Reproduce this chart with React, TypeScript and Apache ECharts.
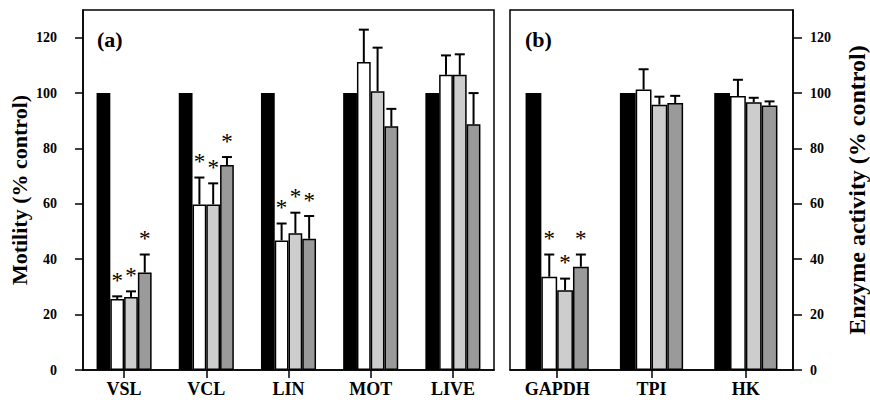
import React, { useEffect, useRef } from "react";
import * as echarts from "echarts";

const categoriesA = ["VSL", "VCL", "LIN", "MOT", "LIVE"];
const categoriesB = ["GAPDH", "TPI", "HK"];
const seriesNames = ["Control", "Dose 1", "Dose 2", "Dose 3"];

// Panel (a): motility, % control
const controlA = [100, 100, 100, 100, 100];
const dose1A = [25.6, 59.8, 46.8, 111.2, 106.6];
const dose2A = [26.4, 59.8, 49.4, 100.7, 106.6];
const dose3A = [35.2, 74.0, 47.4, 88.0, 88.7];
const dose1ErrA = [1.0, 9.7, 6.1, 11.7, 7.0];
const dose2ErrA = [2.0, 7.6, 7.4, 15.7, 7.4];
const dose3ErrA = [6.5, 2.9, 8.2, 6.3, 11.3];
const sigA = [1, 1, 1, 0, 0];

// Panel (b): enzyme activity, % control
const controlB = [100, 100, 100];
const dose1B = [33.7, 101.3, 98.9];
const dose2B = [28.8, 95.8, 96.7];
const dose3B = [37.3, 96.4, 95.5];
const dose1ErrB = [8.0, 7.3, 5.9];
const dose2ErrB = [4.2, 2.9, 1.6];
const dose3ErrB = [4.4, 2.6, 1.5];
const sigB = [1, 0, 0];

const yTicks = [0, 20, 40, 60, 80, 100, 120];
const FONT = "Liberation Serif, Times New Roman, serif";
const barColors = ["#000000", "#ffffff", "#cdcdcd", "#9a9a9a"];

function buildErrData(means: number[][], errs: number[][], sig: number[]) {
  const out: number[][] = [];
  means.forEach((arr, s) => {
    arr.forEach((m, c) => {
      out.push([c, m, errs[s][c], s + 1, sig[c]]);
    });
  });
  return out;
}

function renderErr(params: any, api: any) {
  const cat = api.value(0);
  const mean = api.value(1);
  const err = api.value(2);
  const s = api.value(3);
  const sig = api.value(4);
  const band = api.size([1, 0])[0];
  const barW = (band * 0.67) / 4;
  const base = api.coord([cat, mean]);
  const top = api.coord([cat, mean + err]);
  const x = base[0] + (s - 1.5) * barW;
  const children: any[] = [];
  const st = { stroke: "#000", lineWidth: 2 };
  if (err > 0) {
    children.push({ type: "line", shape: { x1: x, y1: base[1], x2: x, y2: top[1] }, style: st });
    children.push({ type: "line", shape: { x1: x - 5, y1: top[1], x2: x + 5, y2: top[1] }, style: st });
  }
  if (sig) {
    children.push({
      type: "text",
      x: x,
      y: top[1] - 16,
      style: {
        text: "*",
        fill: "#000",
        font: `normal 23px ${FONT}`,
        textAlign: "center",
        textVerticalAlign: "middle",
      },
    });
  }
  return { type: "group", children };
}

export default function App() {
  const ref = useRef<HTMLDivElement>(null);
  useEffect(() => {
    if (!ref.current) return;
    const chart = echarts.init(ref.current, null, { renderer: "svg" });
    const tickLabel = {
      fontFamily: FONT,
      fontWeight: "bold",
      fontSize: 14,
      color: "#000",
      customValues: yTicks,
    };
    const catLabel = { fontFamily: FONT, fontWeight: "bold", fontSize: 18, color: "#000", margin: 10 };
    const axisLine = { lineStyle: { color: "#000", width: 1.5 } };
    const nameStyleL = { fontFamily: FONT, fontWeight: "bold", fontSize: 22, color: "#000" };
    const nameStyleR = { fontFamily: FONT, fontWeight: "bold", fontSize: 24, color: "#000" };

    const barSeries = (data: number[][], xi: number) =>
      data.map((d, i) => ({
        type: "bar",
        name: seriesNames[i],
        xAxisIndex: xi,
        yAxisIndex: xi,
        data: d,
        barGap: "0%",
        barCategoryGap: "33%",
        itemStyle: { color: barColors[i], borderColor: "#000", borderWidth: 1.5 },
      }));

    chart.setOption({
      animation: false,
      backgroundColor: "#fff",
      grid: [
        { left: 83, right: 376, top: 10, bottom: 35, show: true, borderColor: "#000", borderWidth: 1.5, backgroundColor: "transparent" },
        { left: 510, right: 74, top: 10, bottom: 35, show: true, borderColor: "#000", borderWidth: 1.5, backgroundColor: "transparent" },
      ],
      xAxis: [
        {
          type: "category", gridIndex: 0, data: categoriesA,
          axisLine, axisTick: { show: true, length: 8, alignWithLabel: true, lineStyle: { color: "#000", width: 1.5 } },
          axisLabel: catLabel,
        },
        {
          type: "category", gridIndex: 1, data: categoriesB,
          axisLine, axisTick: { show: true, length: 8, alignWithLabel: true, lineStyle: { color: "#000", width: 1.5 } },
          axisLabel: catLabel,
        },
      ],
      yAxis: [
        {
          type: "value", gridIndex: 0, min: 0, max: 130, interval: 10, position: "left",
          name: "Motility (% control)", nameLocation: "middle", nameGap: 53, nameTextStyle: nameStyleL,
          axisLine: { show: true, ...axisLine },
          axisTick: { show: true, length: 8, lineStyle: { color: "#000", width: 1.5 }, customValues: yTicks },
          axisLabel: { ...tickLabel, margin: 26 },
          splitLine: { show: false },
        },
        {
          type: "value", gridIndex: 1, min: 0, max: 130, interval: 10, position: "right",
          name: "Enzyme activity (% control)", nameLocation: "middle", nameGap: 52, nameTextStyle: nameStyleR,
          axisLine: { show: true, ...axisLine },
          axisTick: { show: true, length: 9, lineStyle: { color: "#000", width: 1.5 }, customValues: yTicks },
          axisLabel: { ...tickLabel, margin: 17 },
          splitLine: { show: false },
        },
      ],
      series: [
        ...barSeries([controlA, dose1A, dose2A, dose3A], 0),
        ...barSeries([controlB, dose1B, dose2B, dose3B], 1),
        {
          type: "custom", xAxisIndex: 0, yAxisIndex: 0, z: 10, renderItem: renderErr,
          data: buildErrData([dose1A, dose2A, dose3A], [dose1ErrA, dose2ErrA, dose3ErrA], sigA),
        },
        {
          type: "custom", xAxisIndex: 1, yAxisIndex: 1, z: 10, renderItem: renderErr,
          data: buildErrData([dose1B, dose2B, dose3B], [dose1ErrB, dose2ErrB, dose3ErrB], sigB),
        },
      ],
      graphic: [
        { type: "text", left: 97, top: 28, style: { text: "(a)", font: `bold 22px ${FONT}`, fill: "#000" } },
        { type: "text", left: 525, top: 28, style: { text: "(b)", font: `bold 22px ${FONT}`, fill: "#000" } },
      ],
    });
    return () => chart.dispose();
  }, []);
  return <div ref={ref} style={{ position: "fixed", left: 0, top: 0, width: 870, height: 405 }} />;
}
